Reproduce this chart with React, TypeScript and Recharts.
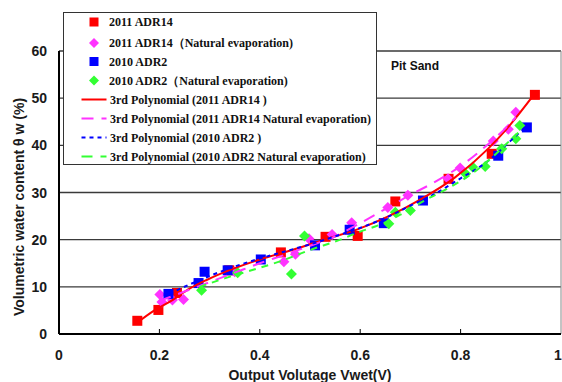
import React from 'react';
import { ScatterChart, Scatter, XAxis, YAxis, CartesianGrid, Legend, ReferenceLine } from 'recharts';

const W = 562;
const H = 382;

const xTicks = [0, 0.2, 0.4, 0.6, 0.8, 1];
const yTicks = [0, 10, 20, 30, 40, 50, 60];

const adr14X = [0.156, 0.198, 0.235, 0.339, 0.442, 0.531, 0.595, 0.670, 0.776, 0.862, 0.948];
const adr14Y = [2.8, 5.1, 8.7, 13.5, 17.3, 20.6, 20.8, 28.1, 32.9, 38.2, 50.7];

const adr14NatX = [0.201, 0.205, 0.226, 0.248, 0.35, 0.448, 0.471, 0.498, 0.544, 0.583, 0.655, 0.695, 0.775, 0.799, 0.865, 0.895, 0.91];
const adr14NatY = [8.4, 6.8, 7.2, 7.3, 13.2, 15.3, 16.9, 20.2, 21.1, 23.6, 26.8, 29.4, 32.9, 35.2, 40.9, 43.4, 47.0];

const adr2X = [0.218, 0.278, 0.29, 0.336, 0.402, 0.51, 0.579, 0.647, 0.725, 0.875, 0.932];
const adr2Y = [8.5, 10.8, 13.2, 13.5, 15.8, 18.8, 22.1, 23.5, 28.3, 37.8, 43.8];

const adr2NatX = [0.284, 0.356, 0.463, 0.489, 0.657, 0.67, 0.7, 0.81, 0.824, 0.849, 0.882, 0.91, 0.918];
const adr2NatY = [9.3, 13.0, 12.7, 20.8, 23.4, 25.8, 26.2, 34.0, 35.4, 35.5, 39.3, 41.4, 44.2];

// trend curves
const trendAdr14X = [0.157, 0.19, 0.226, 0.26, 0.293, 0.346, 0.4, 0.465, 0.531, 0.597, 0.657, 0.723, 0.789, 0.855, 0.892, 0.948];
const trendAdr14Y = [2.5, 5.0, 7.2, 9.6, 11.4, 13.8, 15.8, 17.8, 20.1, 22.3, 25.0, 28.7, 33.2, 39.3, 43.5, 51.0];

const trendAdr14NatX = [0.2, 0.25, 0.3, 0.35, 0.4, 0.45, 0.5, 0.55, 0.6, 0.65, 0.7, 0.75, 0.8, 0.85, 0.9, 0.91];
const trendAdr14NatY = [7.0, 9.0, 11.0, 13.0, 15.0, 16.8, 18.7, 20.7, 23.5, 26.5, 29.5, 32.3, 35.6, 39.8, 44.8, 46.0];

const trendAdr2X = [0.22, 0.26, 0.3, 0.35, 0.4, 0.45, 0.5, 0.55, 0.6, 0.65, 0.7, 0.75, 0.8, 0.85, 0.9, 0.93];
const trendAdr2Y = [8.5, 10.5, 12.3, 14.3, 16.0, 17.5, 19.0, 20.7, 22.5, 24.6, 27.2, 29.8, 33.0, 36.3, 41.0, 44.0];

const trendAdr2NatX = [0.28, 0.33, 0.38, 0.44, 0.5, 0.56, 0.6, 0.64, 0.68, 0.73, 0.78, 0.82, 0.86, 0.9, 0.92];
const trendAdr2NatY = [10.0, 11.8, 13.4, 15.4, 17.8, 20.0, 21.7, 23.2, 25.3, 28.4, 31.2, 33.8, 37.2, 41.2, 43.2];

const seriesNames = [
  '2011 ADR14',
  '2011 ADR14（Natural evaporation)',
  '2010 ADR2',
  '2010 ADR2（Natural evaporation)',
  '3rd Polynomial (2011 ADR14 )',
  '3rd Polynomial (2011 ADR14 Natural evaporation)',
  '3rd Polynomial (2010 ADR2 )',
  '3rd Polynomial (2010 ADR2 Natural evaporation)',
];

const zip = (xs: number[], ys: number[]) => xs.map((x, i) => ({ x, y: ys[i] }));

const RED = '#ff0000';
const MAG = '#ff33ff';
const BLUE = '#0000ff';
const GREEN = '#33ff33';

const sqShape = (color: string) => (p: any) => (
  <rect x={p.cx - 5} y={p.cy - 5} width={10} height={10} fill={color} />
);
const diaShape = (color: string) => (p: any) => (
  <polygon
    points={`${p.cx},${p.cy - 5.5} ${p.cx + 5.5},${p.cy} ${p.cx},${p.cy + 5.5} ${p.cx - 5.5},${p.cy}`}
    fill={color}
  />
);
const emptyShape = () => <g />;

const FONT = '"Liberation Sans", Arial, sans-serif';

const XTick = (props: any) => {
  const { x, y, payload } = props;
  return (
    <g>
      {payload.value > 0 && payload.value < 1 && (
        <line x1={x} x2={x} y1={y - 5} y2={y} stroke="#000" strokeWidth={1} />
      )}
      <text x={x} y={y + 26} textAnchor="middle" fontFamily={FONT} fontWeight="bold" fontSize={14} fill="#1a1a1a">
        {String(payload.value)}
      </text>
    </g>
  );
};

const YTick = (props: any) => {
  const { x, y, payload } = props;
  return (
    <text x={x - 12} y={y + 5} textAnchor="end" fontFamily={FONT} fontWeight="bold" fontSize={14} fill="#1a1a1a">
      {String(payload.value)}
    </text>
  );
};

const LegendBox = () => {
  const rowY = [10, 31, 49.5, 68.5, 87.5, 106.5, 125.5, 144.5];
  const marker = (i: number, cy: number) => {
    const cx = 31;
    if (i === 0) return <rect x={cx - 4.5} y={cy - 4.5} width={9} height={9} fill={RED} />;
    if (i === 2) return <rect x={cx - 4.5} y={cy - 4.5} width={9} height={9} fill={BLUE} />;
    if (i === 1 || i === 3)
      return (
        <polygon
          points={`${cx},${cy - 5} ${cx + 5},${cy} ${cx},${cy + 5} ${cx - 5},${cy}`}
          fill={i === 1 ? MAG : GREEN}
        />
      );
    const styles = [
      { stroke: RED, dash: undefined },
      { stroke: MAG, dash: '12 8' },
      { stroke: BLUE, dash: '4 4' },
      { stroke: GREEN, dash: '11 8' },
    ][i - 4];
    return <line x1={18.5} x2={43.5} y1={cy} y2={cy} stroke={styles.stroke} strokeWidth={2} strokeDasharray={styles.dash} />;
  };
  return (
    <div style={{ width: 314, height: 153, border: '1px solid #333', background: '#fff', boxSizing: 'border-box' }}>
      <svg width={314} height={153} style={{ display: 'block', marginTop: -1, marginLeft: -1 }}>
        {seriesNames.map((n, i) => (
          <g key={n}>
            {marker(i, rowY[i])}
            <text
              x={i < 4 ? 46 : 47}
              y={rowY[i] + 4}
              fontFamily='"Liberation Serif", "DejaVu Serif", serif'
              fontWeight="bold"
              fontSize={12}
              fill="#111"
            >
              {n}
            </text>
          </g>
        ))}
      </svg>
    </div>
  );
};

export default function App() {
  return (
    <div style={{ position: 'absolute', left: 0, top: 0, width: W, height: H, background: '#fff', overflow: 'hidden' }}>
      <ScatterChart width={W} height={H} margin={{ top: 51, right: 1, bottom: 0, left: 0 }}>
        <CartesianGrid vertical={false} stroke="#3a3a3a" strokeWidth={1.4} />
        <XAxis
          type="number"
          dataKey="x"
          domain={[0, 1]}
          ticks={xTicks}
          tick={<XTick />}
          tickLine={false}
          tickSize={0}
          tickMargin={0}
          height={48}
          axisLine={{ stroke: '#000', strokeWidth: 2 }}
          allowDataOverflow
          label={{
            content: () => (
              <text x={310} y={380} textAnchor="middle" fontFamily={FONT} fontWeight="bold" fontSize={14} fill="#1a1a1a">
                Output Volutage Vwet(V)
              </text>
            ),
          }}
        />
        <YAxis
          type="number"
          dataKey="y"
          domain={[0, 60]}
          ticks={yTicks}
          tick={<YTick />}
          tickLine={false}
          tickSize={0}
          tickMargin={0}
          width={59}
          axisLine={{ stroke: '#000', strokeWidth: 2 }}
          allowDataOverflow
          label={{
            content: () => (
              <text
                x={19}
                y={207}
                transform="rotate(-90, 19, 207)"
                textAnchor="middle"
                dominantBaseline="central"
                fontFamily={FONT}
                fontWeight="bold"
                fontSize={14}
                fill="#1a1a1a"
              >
                Volumetric water content θ w (%)
              </text>
            ),
          }}
        />
        <ReferenceLine x={1} stroke="#888" strokeWidth={1} />
        <Scatter name={seriesNames[0]} data={zip(adr14X, adr14Y)} shape={sqShape(RED)} isAnimationActive={false} />
        <Scatter name={seriesNames[1]} data={zip(adr14NatX, adr14NatY)} shape={diaShape(MAG)} isAnimationActive={false} />
        <Scatter name={seriesNames[2]} data={zip(adr2X, adr2Y)} shape={sqShape(BLUE)} isAnimationActive={false} />
        <Scatter name={seriesNames[3]} data={zip(adr2NatX, adr2NatY)} shape={diaShape(GREEN)} isAnimationActive={false} />
        <Scatter
          name={seriesNames[4]}
          data={zip(trendAdr14X, trendAdr14Y)}
          shape={emptyShape}
          line={{ stroke: RED, strokeWidth: 2 }}
          lineJointType="monotoneX"
          isAnimationActive={false}
        />
        <Scatter
          name={seriesNames[5]}
          data={zip(trendAdr14NatX, trendAdr14NatY)}
          shape={emptyShape}
          line={{ stroke: MAG, strokeWidth: 2, strokeDasharray: '12 8' }}
          lineJointType="monotoneX"
          isAnimationActive={false}
        />
        <Scatter
          name={seriesNames[6]}
          data={zip(trendAdr2X, trendAdr2Y)}
          shape={emptyShape}
          line={{ stroke: BLUE, strokeWidth: 2, strokeDasharray: '4 4' }}
          lineJointType="monotoneX"
          isAnimationActive={false}
        />
        <Scatter
          name={seriesNames[7]}
          data={zip(trendAdr2NatX, trendAdr2NatY)}
          shape={emptyShape}
          line={{ stroke: GREEN, strokeWidth: 2, strokeDasharray: '7 6' }}
          lineJointType="monotoneX"
          isAnimationActive={false}
        />
        <Legend
          layout="vertical"
          align="center"
          verticalAlign="middle"
          content={() => <LegendBox />}
          wrapperStyle={{ position: 'absolute', left: 63, top: 12, width: 315, height: 154 }}
        />
      </ScatterChart>
      <div
        style={{
          position: 'absolute',
          left: 391,
          top: 58,
          fontFamily: FONT,
          fontWeight: 'bold',
          fontSize: 12,
          color: '#111',
          lineHeight: '16px',
        }}
      >
        Pit Sand
      </div>
    </div>
  );
}
